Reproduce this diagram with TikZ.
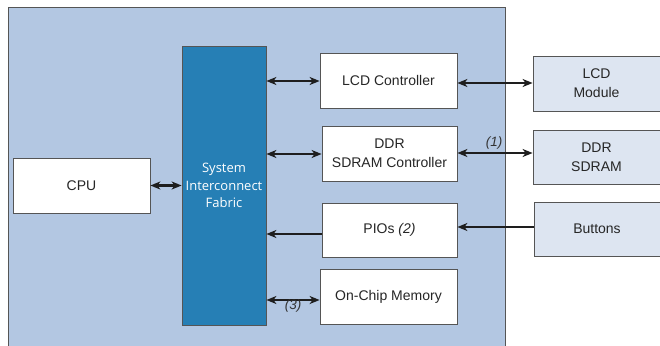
\documentclass[tikz,border=0pt]{standalone}
\usepackage{fontspec}
\setmainfont{Liberation Sans}
\newfontfamily\fabfont{Open Sans}
\usetikzlibrary{arrows.meta}
\definecolor{outerblue}{RGB}{179,199,226}
\definecolor{extblue}{RGB}{221,229,241}
\definecolor{fabblue}{RGB}{38,127,181}
\definecolor{bordergray}{RGB}{85,85,85}
\definecolor{arrowblack}{RGB}{30,30,30}
\tikzset{
  blk/.style={draw=bordergray, line width=0.8pt, fill=white, inner sep=0pt, align=center, font=\fontsize{14}{19}\selectfont, text=black!85},
  extblk/.style={blk, fill=extblue},
  conn/.style={draw=arrowblack, line width=2.1pt, {Stealth[length=10pt,width=8pt,inset=3pt]}-{Stealth[length=10pt,width=8pt,inset=3pt]}},
  oneconn/.style={draw=arrowblack, line width=2.1pt, -{Stealth[length=10pt,width=8pt,inset=3pt]}},
  lbl/.style={font=\fontsize{13.5}{14}\selectfont\itshape, text=black!80, inner sep=0pt}
}
\begin{document}
\begin{tikzpicture}[x=1pt,y=-1pt]
\useasboundingbox (0,0) rectangle (660,345);
\begin{scope}
\clip (0,0) rectangle (660,345);
\draw[draw=bordergray, line width=0.8pt, fill=outerblue] (8,7) rectangle (505,360);
\end{scope}
\node[blk, minimum width=137pt, minimum height=55pt] (cpu) at (81.5,185.5) {CPU};
\node[draw=bordergray, line width=0.8pt, fill=fabblue, minimum width=84pt, minimum height=279pt, align=center, text=white, font=\fabfont\fontsize{13}{17.5}\selectfont, inner sep=0pt] (fab) at (224,185.5) {System\\Interconnect\\Fabric};
\node[blk, minimum width=137pt, minimum height=55pt] (lcdc) at (388.5,80.5) {LCD Controller};
\node[blk, minimum width=135pt, minimum height=55pt] (ddrc) at (389.5,153.5) {DDR\\SDRAM Controller};
\node[blk, minimum width=135pt, minimum height=54pt] (pio) at (389.5,230) {PIOs \textit{(2)}};
\node[blk, minimum width=137pt, minimum height=55pt] (ocm) at (388.5,296.5) {On-Chip Memory};
\node[extblk, minimum width=127pt, minimum height=55pt] (lcdm) at (596.5,83.5) {LCD\\Module};
\node[extblk, minimum width=127pt, minimum height=54pt] (ddr) at (596.5,157) {DDR\\SDRAM};
\node[extblk, minimum width=126pt, minimum height=54pt] (btn) at (597,229) {Buttons};

\draw[conn] (cpu.east) -- (cpu.east -| fab.west);
\draw[conn] ([yshift=-0.5pt]lcdc.west -| fab.east) -- ([yshift=-0.5pt]lcdc.west);
\draw[conn] ([yshift=-0.5pt]ddrc.west -| fab.east) -- ([yshift=-0.5pt]ddrc.west);
\draw[oneconn] ([yshift=-4pt]pio.west) -- ([yshift=-4pt]pio.west -| fab.east);
\draw[conn] ([yshift=-3.5pt]ocm.west -| fab.east) -- ([yshift=-3.5pt]ocm.west);
\draw[conn] ([yshift=-2.5pt]lcdc.east) -- ([yshift=-2.5pt]lcdc.east -| lcdm.west);
\draw[conn] ([yshift=0.5pt]ddrc.east) -- ([yshift=0.5pt]ddrc.east -| ddr.west);
\draw[oneconn] ([yshift=2pt]btn.west) -- ([yshift=2pt]btn.west -| pio.east);
\node[lbl] (l1) at (494,143) {(1)};
\node[lbl] (l3) at (293,306) {(3)};
\end{tikzpicture}
\end{document}
